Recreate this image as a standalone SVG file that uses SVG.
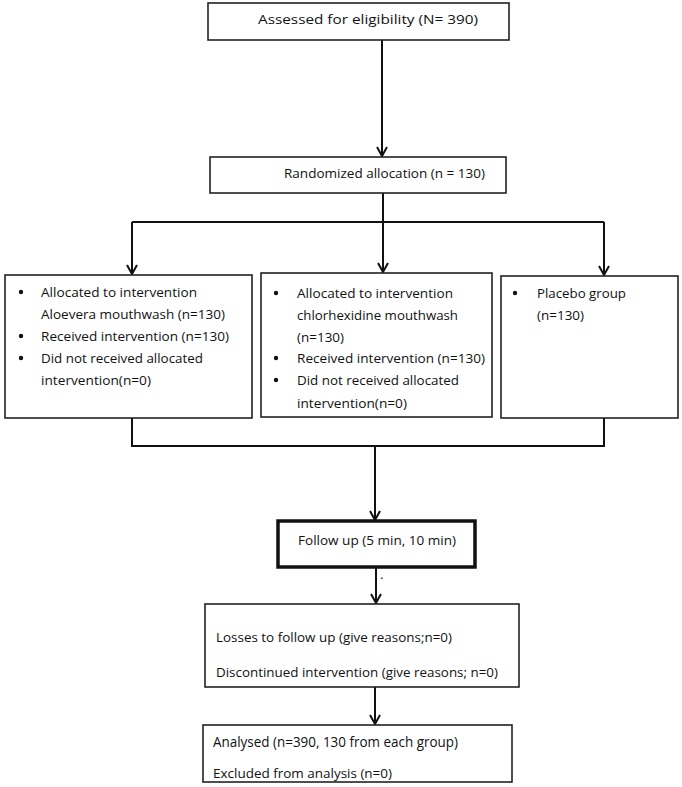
<svg xmlns="http://www.w3.org/2000/svg" width="682" height="787" viewBox="0 0 682 787">
<defs>
<style>
.box{fill:#fff;stroke:#222;stroke-width:1.6}
.thick{fill:#fff;stroke:#111;stroke-width:3.5}
.t{font-family:"Open Sans","Liberation Sans",Arial,sans-serif;font-size:13.5px;fill:#111}
.big{font-size:14.5px}
.sm{font-size:13px}
.c{stroke:#111;stroke-width:2;fill:none}
</style>
<marker id="ah" viewBox="0 0 12 12" refX="11" refY="6" markerWidth="12" markerHeight="12" markerUnits="userSpaceOnUse" orient="auto">
<path d="M2,1 L11,6 L2,11" fill="none" stroke="#111" stroke-width="2"/>
</marker>
</defs>
<rect width="682" height="787" fill="#fff"/>
<g id="connectors">
<path class="c" d="M382,40 V156" marker-end="url(#ah)"/>
<path class="c" d="M383,193 V222 M132,222 H604"/>
<path class="c" d="M132,222 V274" marker-end="url(#ah)"/>
<path class="c" d="M383,222 V272" marker-end="url(#ah)"/>
<path class="c" d="M604,222 V275" marker-end="url(#ah)"/>
<path class="c" d="M132,418 V446 H604 V418"/>
<path class="c" d="M375,446 V520" marker-end="url(#ah)"/>
<path class="c" d="M376,567 V603" marker-end="url(#ah)"/>
<path class="c" d="M375,687 V724" marker-end="url(#ah)"/>
</g>
<g id="n_assessed">
<rect class="box" x="208" y="3" width="301" height="37"/>
<text class="t" x="258" y="24" textLength="220" lengthAdjust="spacingAndGlyphs">Assessed for eligibility (N= 390)</text>
</g>
<g id="n_random">
<rect class="box" x="210" y="157" width="296" height="36"/>
<text class="t" x="284" y="178" textLength="201" lengthAdjust="spacingAndGlyphs">Randomized allocation (n = 130)</text>
</g>
<g id="n_aloe">
<rect class="box" x="5" y="275" width="247" height="143"/>
<circle cx="21" cy="292" r="2.2" fill="#111"/>
<circle cx="21" cy="336" r="2.2" fill="#111"/>
<circle cx="21" cy="358" r="2.2" fill="#111"/>
<text class="t" x="41" y="297" textLength="156" lengthAdjust="spacingAndGlyphs">Allocated to intervention</text>
<text class="t" x="41" y="319" textLength="184" lengthAdjust="spacingAndGlyphs">Aloevera mouthwash (n=130)</text>
<text class="t" x="41" y="341" textLength="188" lengthAdjust="spacingAndGlyphs">Received intervention (n=130)</text>
<text class="t" x="41" y="363" textLength="162" lengthAdjust="spacingAndGlyphs">Did not received allocated</text>
<text class="t" x="41" y="385" textLength="110" lengthAdjust="spacingAndGlyphs">intervention(n=0)</text>
</g>
<g id="n_chlor">
<rect class="box" x="261" y="273" width="231" height="144"/>
<circle cx="276" cy="293" r="2.2" fill="#111"/>
<circle cx="276" cy="358" r="2.2" fill="#111"/>
<circle cx="276" cy="380" r="2.2" fill="#111"/>
<text class="t" x="297" y="298" textLength="156" lengthAdjust="spacingAndGlyphs">Allocated to intervention</text>
<text class="t" x="297" y="320" textLength="161" lengthAdjust="spacingAndGlyphs">chlorhexidine mouthwash</text>
<text class="t" x="297" y="342" textLength="47" lengthAdjust="spacingAndGlyphs">(n=130)</text>
<text class="t" x="297" y="363" textLength="188" lengthAdjust="spacingAndGlyphs">Received intervention (n=130)</text>
<text class="t" x="297" y="385" textLength="162" lengthAdjust="spacingAndGlyphs">Did not received allocated</text>
<text class="t" x="297" y="408" textLength="110" lengthAdjust="spacingAndGlyphs">intervention(n=0)</text>
</g>
<g id="n_placebo">
<rect class="box" x="501" y="276" width="177" height="142"/>
<circle cx="515" cy="293" r="2.2" fill="#111"/>
<text class="t" x="537" y="298" textLength="89" lengthAdjust="spacingAndGlyphs">Placebo group</text>
<text class="t" x="537" y="320" textLength="47" lengthAdjust="spacingAndGlyphs">(n=130)</text>
</g>
<g id="n_follow">
<rect class="thick" x="278" y="521" width="197" height="46"/>
<text class="t" x="298" y="545" textLength="158" lengthAdjust="spacingAndGlyphs">Follow up (5 min, 10 min)</text>
<text class="t" x="380" y="579">.</text>
</g>
<g id="n_losses">
<rect class="box" x="205" y="604" width="314" height="83"/>
<text class="t" x="216" y="642" textLength="236" lengthAdjust="spacingAndGlyphs">Losses to follow up (give reasons;n=0)</text>
<text class="t" x="216" y="677" textLength="282" lengthAdjust="spacingAndGlyphs">Discontinued intervention (give reasons; n=0)</text>
</g>
<g id="n_analysed">
<rect class="box" x="203" y="725" width="309" height="57"/>
<text class="t big" x="213" y="747" textLength="245" lengthAdjust="spacingAndGlyphs">Analysed (n=390, 130 from each group)</text>
<text class="t sm" x="213" y="778" textLength="179" lengthAdjust="spacingAndGlyphs">Excluded from analysis (n=0)</text>
</g>
</svg>
